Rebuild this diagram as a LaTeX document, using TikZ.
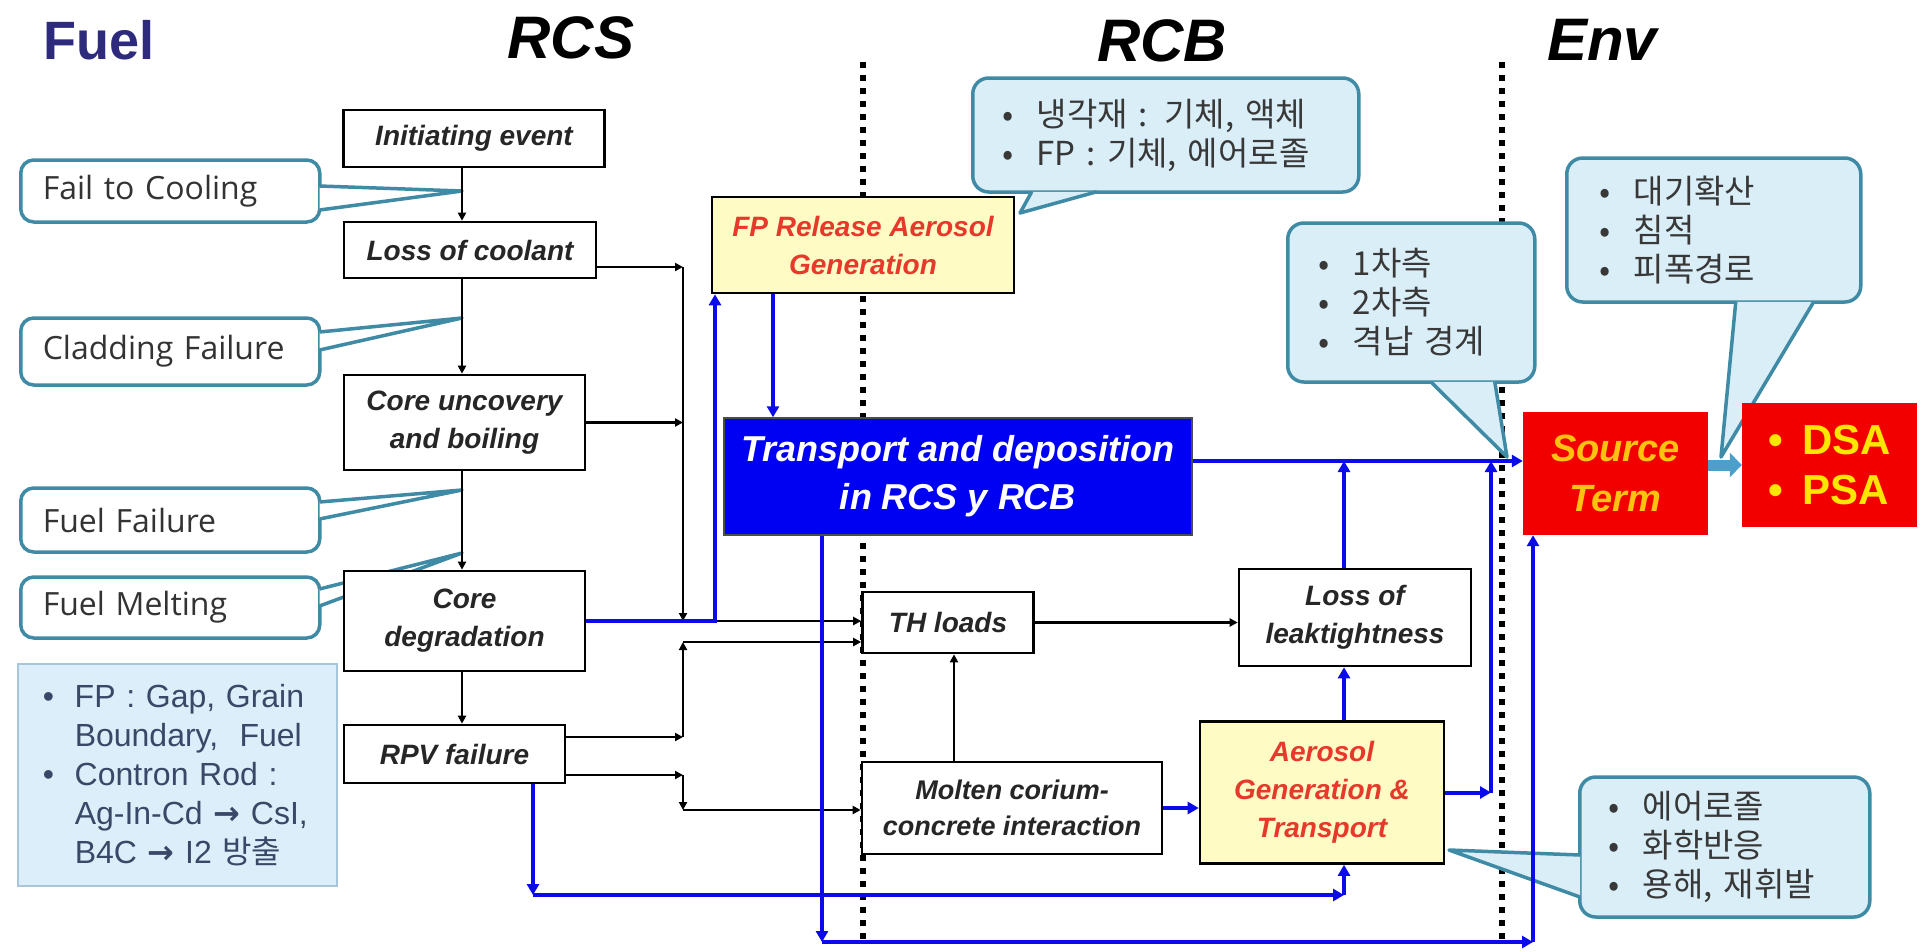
\documentclass[tikz,border=0pt]{standalone}
\usepackage{fontspec}
\setmainfont{Liberation Sans}
\newfontfamily\kfont{Noto Sans CJK KR}
\newfontfamily\nfont{Open Sans}
\newfontfamily\symfont{DejaVu Sans}
\usetikzlibrary{arrows.meta}

\definecolor{fuelnavy}{HTML}{2E2A7C}
\definecolor{calline}{HTML}{3F8BA5}
\definecolor{calfill}{HTML}{DAEEF8}
\definecolor{infofill}{HTML}{DCEEFA}
\definecolor{infoline}{HTML}{A8C6DA}
\definecolor{infotext}{HTML}{3A4868}
\definecolor{flowblue}{HTML}{0A0AEB}
\definecolor{trblue}{HTML}{0000F2}
\definecolor{boxyellow}{HTML}{FFFBC4}
\definecolor{boxred}{HTML}{F20000}
\definecolor{fpred}{HTML}{E6392B}
\definecolor{termgold}{HTML}{FFC20E}
\definecolor{dsagold}{HTML}{FFE600}
\definecolor{fatblue}{HTML}{4B9FC8}

\newcommand{\kb}{\makebox[34pt][l]{•}}
\newcommand{\ib}{\makebox[32pt][l]{•}}
\newcommand{\ibs}{\hspace*{32pt}}

\begin{document}
\begin{tikzpicture}[x=1pt,y=-1pt,
  heading/.style={font=\fontsize{60}{70}\selectfont\bfseries\itshape},
  box/.style={draw, line width=2.6pt, fill=white, inner sep=0pt, align=center,
    text=black!85, font=\fontsize{28}{38}\selectfont\bfseries\itshape},
  redbox/.style={box, fill=boxyellow, text=fpred},
  fuelnote/.style={draw=calline, line width=3.5pt, rounded corners=13pt, fill=white,
    anchor=west, text width=255pt, inner xsep=22pt, inner ysep=0pt, minimum height=#1,
    align=left, text=black!80, font=\nfont\fontsize{32}{36}\selectfont},
  infonote/.style={draw=calline, line width=3.5pt, rounded corners=16pt, fill=calfill,
    anchor=west, inner ysep=0pt, align=left, text=black!78,
    font=\kfont\fontsize{33}{39}\selectfont},
  calltail/.style={draw=calline, line width=3.5pt, line join=round},
  zoneline/.style={line width=6pt, dash pattern=on 6pt off 7pt},
  arr/.style={line width=2.6pt, -{Triangle[length=8pt,width=8pt]}},
  barr/.style={flowblue, line width=4pt, -{Triangle[length=11pt,width=12pt]}},
  fatarr/.style={fatblue, line width=11pt, -{Triangle[length=12pt,width=24pt]}}
]

\fill[white] (0,0) rectangle (1921,951);
\useasboundingbox (0,0) rectangle (1921,951);

\node[heading, text=fuelnavy, font=\fontsize{54}{60}\selectfont\bfseries] at (99,40) (tfuel) {Fuel};
\node[heading] at (571,38) (trcs) {RCS};
\node[heading] at (1162,41) (trcb) {RCB};
\node[heading] at (1602,40) (tenv) {Env};

\coordinate (rcbtop) at (863,62);
\coordinate (rcbbot) at (863,945);
\coordinate (envtop) at (1502,62);
\coordinate (envbot) at (1502,945);
\draw[zoneline] (rcbtop) -- (rcbbot);
\draw[zoneline] (envtop) -- (envbot);

\coordinate (tipcool) at (462,191);
\coordinate (tipclad) at (462,318);
\coordinate (tipfail) at (462,490);
\coordinate (tipmelt) at (462,553);
\coordinate (tipfp) at (1020,213);
\coordinate (tipbound) at (1507,457);
\coordinate (tipenv) at (1721,457);
\coordinate (tipaero) at (1449,850);

\node[fuelnote=62pt] at (19,191) (fcool) {Fail to Cooling};
\node[fuelnote=67pt] at (19,351.5) (fclad) {Cladding Failure};
\node[fuelnote=64pt] at (19,520) (ffail) {Fuel Failure};
\node[fuelnote=61pt] at (19,607.5) (fmelt) {Fuel Melting};
\draw[calltail, fill=white] ([xshift=-2pt,yshift=5pt]fcool.east) -- (tipcool) -- ([xshift=-2pt,yshift=-19pt]fcool.east);
\draw[calltail, fill=white] ([xshift=-2pt,yshift=19.5pt]fclad.east) -- (tipclad) -- ([xshift=-2pt,yshift=1.5pt]fclad.east);
\draw[calltail, fill=white] ([xshift=-2pt,yshift=18pt]ffail.east) -- (tipfail) -- ([xshift=-2pt,yshift=1pt]ffail.east);
\draw[calltail, fill=white] ([xshift=-2pt,yshift=18.5pt]fmelt.east) -- (tipmelt) -- ([xshift=-2pt,yshift=1.5pt]fmelt.east);

\node[draw=infoline, line width=1.5pt, fill=infofill, anchor=north west, text width=269pt,
  inner xsep=25pt, inner ysep=0pt, minimum height=222pt, align=left, text=infotext,
  font=\fontsize{32}{39}\selectfont] at (17,663) (fpinfo)
  {\ib FP : Gap, Grain\\
   \ibs Boundary,\ \ Fuel\\
   \ib Contron Rod :\\
   \ibs Ag-In-Cd {\symfont\bfseries →} CsI,\\
   \ibs B4C {\symfont\bfseries →} I2 {\kfont 방출}};

\node[infonote, text width=326pt, inner xsep=30pt, minimum height=114pt] at (971,135) (ncool)
  {\kb 냉각재 : 기체, 액체\\\kb FP : 기체, 에어로졸};
\node[infonote, text width=185pt, inner xsep=31pt, minimum height=159pt] at (1286,302.5) (nbound)
  {\kb 1차측\\\kb 2차측\\\kb 격납 경계};
\node[infonote, text width=228pt, inner xsep=33pt, minimum height=144pt] at (1565,230) (nenv)
  {\kb 대기확산\\\kb 침적\\\kb 피폭경로};
\node[infonote, text width=232pt, inner xsep=29pt, minimum height=140pt] at (1578,847) (naero)
  {\kb 에어로졸\\\kb 화학반응\\\kb 용해, 재휘발};
\draw[calltail, fill=calfill] ([xshift=-134pt,yshift=2pt]ncool.south) -- (tipfp) -- ([xshift=-69pt,yshift=2pt]ncool.south);
\draw[calltail, fill=calfill] ([xshift=19.5pt,yshift=2pt]nbound.south) -- (tipbound) -- ([xshift=83.5pt,yshift=2pt]nbound.south);
\draw[calltail, fill=calfill] ([xshift=22pt,yshift=2pt]nenv.south) -- (tipenv) -- ([xshift=100pt,yshift=2pt]nenv.south);
\draw[calltail, fill=calfill] ([xshift=2pt,yshift=-8pt]naero.west) -- (tipaero) -- ([xshift=2pt,yshift=-50pt]naero.west);

\node[box, minimum width=261pt, minimum height=57pt] at (474,138.5) (init) {Initiating event};
\node[box, minimum width=252pt, minimum height=56pt] at (470,250) (loss) {Loss of coolant};
\node[box, minimum width=241pt, minimum height=95pt] at (464.5,422.5) (uncov) {Core uncovery\\and boiling};
\node[box, minimum width=241pt, minimum height=100pt] at (464.5,621) (degr) {Core\\degradation};
\node[box, minimum width=221pt, minimum height=58pt] at (454.5,754) (rpv) {RPV failure};

\node[redbox, minimum width=302pt, minimum height=96pt] at (863,245) (fprel) {FP Release Aerosol\\Generation};
\node[box, line width=1.5pt, draw=black!70, fill=trblue, text=white, font=\fontsize{36}{48}\selectfont\bfseries\itshape,
  minimum width=468pt, minimum height=117pt] at (958,476.5) (trans) {Transport and deposition\\in RCS y RCB};
\node[box, minimum width=171pt, minimum height=61pt] at (948,622.5) (thl) {TH loads};
\node[box, minimum width=232pt, minimum height=97pt] at (1355,617.5) (leak) {Loss of\\leaktightness};
\node[box, font=\fontsize{27}{36}\selectfont\bfseries\itshape, minimum width=300pt, minimum height=92pt] at (1012,808) (molt) {Molten corium-\\concrete interaction};
\node[redbox, minimum width=244pt, minimum height=142pt] at (1322,792.5) (aero) {Aerosol\\Generation \&\\Transport};
\node[fill=boxred, text=termgold, font=\fontsize{38}{50}\selectfont\bfseries\itshape, align=center,
  minimum width=185pt, minimum height=123pt] at (1615.5,473.5) (src) {Source\\Term};
\node[fill=boxred, text=dsagold, font=\fontsize{42}{50}\selectfont\bfseries, align=left,
  minimum width=175pt, minimum height=124pt] at (1829.5,465) (dsa) {\makebox[34pt][l]{•}DSA\\\makebox[34pt][l]{•}PSA};

\coordinate (spine) at (462,0);
\coordinate (bus) at (683,0);
\coordinate (rdown) at (533,0);
\coordinate (fpup) at (715,0);
\coordinate (fpdown) at (773,0);
\coordinate (tdown) at (822,0);
\coordinate (thup) at (954,0);
\coordinate (aerocol) at (1344,0);
\coordinate (aeroup) at (1491,0);
\coordinate (srcup) at (1533,0);
\coordinate (lossrow) at (0,267);
\coordinate (throw) at (0,642);
\coordinate (rpvhi) at (0,737);
\coordinate (rpvlo) at (0,775);
\coordinate (mtrow) at (0,810);
\coordinate (mainrow) at (0,461);
\coordinate (lowrow) at (0,895);
\coordinate (botrow) at (0,942);

\draw[arr] (spine |- init.south) -- (spine |- loss.north);
\draw[arr] (spine |- loss.south) -- (spine |- uncov.north);
\draw[arr] (spine |- uncov.south) -- (spine |- degr.north);
\draw[arr] (spine |- degr.south) -- (spine |- rpv.north);

\draw[arr] (loss.east |- lossrow) -- (bus |- lossrow);
\draw[arr] (uncov.east) -- (bus |- uncov.east);
\draw[arr] (bus |- lossrow) -- (bus |- degr.east);
\draw[arr] (fpup |- degr.east) -- (thl.west |- degr.east);
\draw[barr] (degr.east) -- (fpup |- degr.east) -- (fpup |- fprel.south);

\draw[arr] (rpv.east |- rpvhi) -- (bus |- rpvhi);
\draw[arr] (bus |- rpvhi) -- (bus |- throw);
\draw[arr] (bus |- throw) -- (thl.west |- throw);
\draw[arr] (rpv.east |- rpvlo) -- (bus |- rpvlo);
\draw[arr] (bus |- rpvlo) -- (bus |- mtrow);
\draw[arr] (bus |- mtrow) -- (molt.west |- mtrow);

\draw[arr] (thup |- molt.north) -- (thup |- thl.south);
\draw[arr] (thl.east) -- (thl.east -| leak.west);

\draw[barr] (fpdown |- fprel.south) -- (fpdown |- trans.north);
\draw[barr] (trans.east |- mainrow) -- (src.west |- mainrow);
\draw[barr] (aerocol |- leak.north) -- (aerocol |- mainrow);
\draw[barr] (aerocol |- aero.north) -- (aerocol |- leak.south);
\draw[barr] (aero.east) -- (aeroup |- aero.east);
\draw[barr] (aeroup |- aero.east) -- (aeroup |- mainrow);
\draw[barr] (molt.east) -- (molt.east -| aero.west);

\draw[barr] (rdown |- rpv.south) -- (rdown |- lowrow);
\draw[barr] (rdown |- lowrow) -- (aerocol |- lowrow);
\draw[barr] (aerocol |- lowrow) -- (aerocol |- aero.south);
\draw[barr] (tdown |- trans.south) -- (tdown |- botrow);
\draw[barr] (tdown |- botrow) -- (srcup |- botrow);
\draw[barr] (srcup |- botrow) -- (srcup |- src.south);

\draw[fatarr] (src.east |- dsa.west) -- (dsa.west);

\end{tikzpicture}
\end{document}
